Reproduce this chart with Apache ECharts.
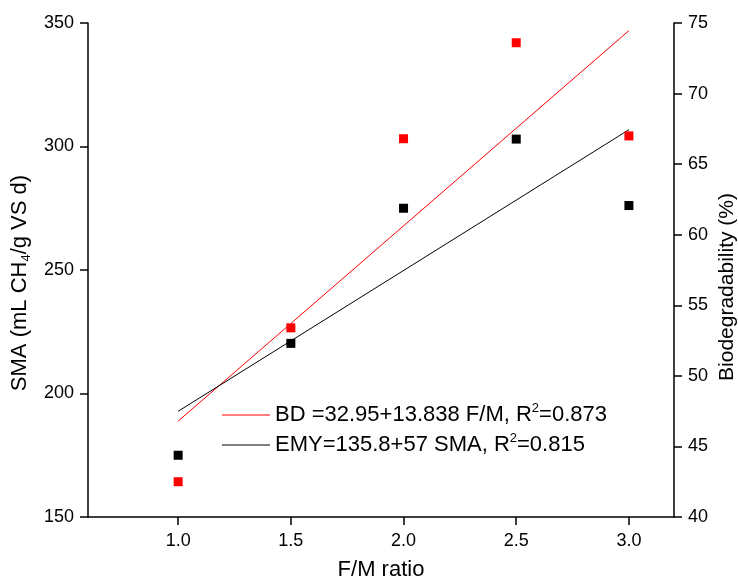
<!DOCTYPE html>
<html>
<head>
<meta charset="utf-8">
<script src="https://cdn.jsdelivr.net/npm/echarts@6/dist/echarts.min.js"></script>
<style>
  html, body { margin: 0; padding: 0; background: #fff; }
  #chart { width: 738px; height: 579px; }
</style>
</head>
<body>
<div id="chart"></div>
<script>
// F/M ratio of each run
const fmRatio = [1.0, 1.5, 2.0, 2.5, 3.0];
// Specific methanogenic activity, mL CH4 / g VS d (left axis)
const smaValues = [175.0, 220.3, 275.0, 303.0, 276.1];
// Biodegradability, % (right axis)
const bdValues = [42.5, 53.4, 66.8, 73.6, 67.0];

// End points of the two fitted lines
const fitX = [1.0, 3.0];
const bdFit = [46.79, 74.46];
const smaFit = [192.8, 306.8];

// Tick positions
const xTicks = [1.0, 1.5, 2.0, 2.5, 3.0];

const bdName = 'BD =32.95+13.838 F/M, R2=0.873';
const emyName = 'EMY=135.8+57 SMA, R2=0.815';

const FONT = '"Liberation Sans", Arial, sans-serif';

const pairs = (xs, ys) => xs.map((x, i) => [x, ys[i]]);

const chart = echarts.init(document.getElementById('chart'), null, { renderer: 'canvas' });

const axisCommon = {
  axisLine: { show: true, lineStyle: { color: '#000', width: 1.5 } },
  axisTick: { show: true, inside: false, length: 8, lineStyle: { color: '#000', width: 1.5 } },
  splitLine: { show: false },
  axisLabel: { color: '#000', fontSize: 18, fontFamily: FONT, margin: 14 }
};

chart.setOption({
  backgroundColor: '#fff',
  animation: false,
  grid: { left: 88, right: 64, top: 23, bottom: 62, containLabel: false, outerBoundsMode: 'none' },
  legend: {
    data: [bdName, emyName],
    orient: 'vertical',
    left: 222,
    top: 402,
    padding: 0,
    icon: 'rect',
    itemWidth: 48,
    itemHeight: 1,
    itemGap: 4,
    selectedMode: false,
    formatter: function (name) {
      const parts = name.split('R2');
      return '{t|' + parts[0] + 'R}{sup|2}{t|' + parts[1] + '}';
    },
    textStyle: {
      color: '#000',
      fontFamily: FONT,
      fontSize: 22,
      lineHeight: 26,
      rich: {
        t: { fontSize: 22, fontFamily: FONT, color: '#000', lineHeight: 26 },
        sup: { fontSize: 13, fontFamily: FONT, color: '#000', verticalAlign: 'top', lineHeight: 26, padding: [0, 0, 8, 0] }
      }
    }
  },
  xAxis: {
    type: 'value',
    min: 0.6,
    max: 3.2,
    name: 'F/M ratio',
    nameLocation: 'middle',
    nameGap: 42,
    nameMoveOverlap: false,
    nameTextStyle: { color: '#000', fontSize: 22, fontFamily: FONT },
    axisLine: axisCommon.axisLine,
    axisTick: Object.assign({}, axisCommon.axisTick, { customValues: xTicks }),
    axisLabel: Object.assign({}, axisCommon.axisLabel, {
      margin: 15,
      customValues: xTicks,
      formatter: v => Number(v).toFixed(1)
    }),
    splitLine: { show: false }
  },
  yAxis: [
    Object.assign({}, axisCommon, {
      type: 'value',
      position: 'left',
      min: 150,
      max: 350,
      interval: 50,
      name: '{a|SMA (mL CH}{s|4}{a|/g VS d)}',
      nameLocation: 'middle',
      nameRotate: 90,
      nameGap: 55,
      nameMoveOverlap: false,
      nameTextStyle: {
        color: '#000', fontSize: 22, fontFamily: FONT,
        padding: [0, 26, 0, 0],
        rich: {
          a: { fontSize: 22, fontFamily: FONT, color: '#000', lineHeight: 26 },
          s: { fontSize: 13, fontFamily: FONT, color: '#000', verticalAlign: 'bottom', lineHeight: 26, padding: [6, 0, 0, 0] }
        }
      }
    }),
    Object.assign({}, axisCommon, {
      type: 'value',
      position: 'right',
      min: 40,
      max: 75,
      interval: 5,
      name: 'Biodegradability (%)',
      nameLocation: 'middle',
      nameRotate: 90,
      nameGap: 43,
      nameMoveOverlap: false,
      nameTextStyle: { color: '#000', fontSize: 21, fontFamily: FONT, padding: [0, 34, 0, 0] }
    })
  ],
  series: [
    {
      name: bdName,
      type: 'line',
      yAxisIndex: 1,
      data: pairs(fitX, bdFit),
      symbol: 'none',
      lineStyle: { color: '#ff0000', width: 1 },
      itemStyle: { color: '#ff0000' },
      z: 2
    },
    {
      name: emyName,
      type: 'line',
      yAxisIndex: 0,
      data: pairs(fitX, smaFit),
      symbol: 'none',
      lineStyle: { color: '#000', width: 1 },
      itemStyle: { color: '#000' },
      z: 2
    },
    {
      name: 'SMA',
      type: 'scatter',
      yAxisIndex: 0,
      data: pairs(fmRatio, smaValues),
      symbol: 'rect',
      symbolSize: 9,
      itemStyle: { color: '#000', opacity: 1 },
      z: 3
    },
    {
      name: 'BD',
      type: 'scatter',
      yAxisIndex: 1,
      data: pairs(fmRatio, bdValues),
      symbol: 'rect',
      symbolSize: 9,
      itemStyle: { color: '#ff0000', opacity: 1 },
      z: 3
    }
  ]
});
</script>
</body>
</html>
